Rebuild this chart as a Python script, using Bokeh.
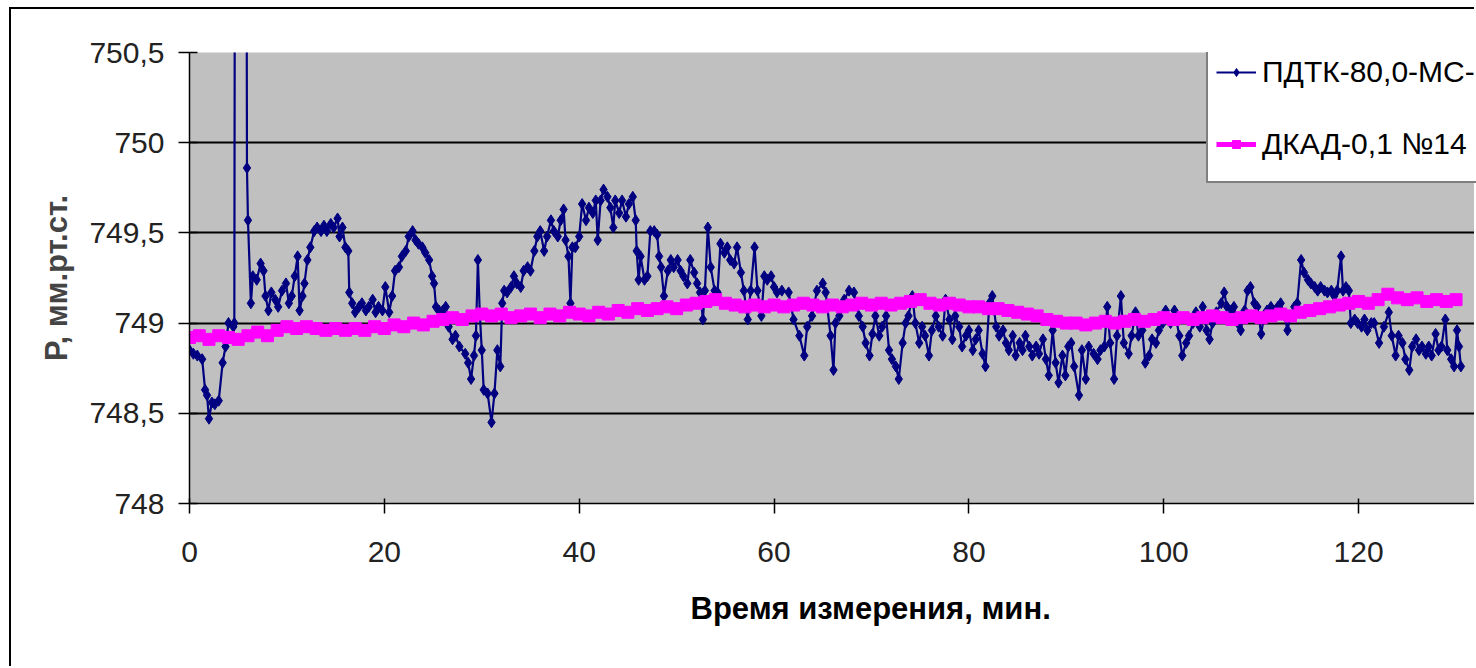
from bokeh.plotting import figure
from bokeh.models import Range1d, FixedTicker, Legend, LegendItem, Title, CustomJSTickFormatter
from bokeh.embed import file_html
from bokeh.resources import INLINE

# ---- data: ПДТК-80,0-МС (time, pressure) ----
pdtk_t = [0.0, 0.4, 0.8, 1.3, 1.6, 1.8, 2.0, 2.3, 2.6, 3.0, 3.4, 3.7, 4.0, 4.5, 4.6, 4.7, 5.8, 5.9, 6.0, 6.3,
          6.5, 6.9, 7.3, 7.6, 7.8, 8.1, 8.4, 8.8, 9.1, 9.5, 9.9, 10.2, 10.5, 10.8, 11.1, 11.3, 11.6, 11.8, 12.1, 12.4,
          12.8, 13.1, 13.5, 13.8, 14.1, 14.5, 14.8, 15.2, 15.4, 15.7, 16.0, 16.3, 16.4, 16.7, 17.0, 17.4, 17.7, 18.1, 18.4, 18.8,
          19.1, 19.4, 19.8, 20.1, 20.5, 20.8, 21.1, 21.5, 21.8, 22.2, 22.5, 22.9, 23.2, 23.5, 23.9, 24.2, 24.6, 24.9, 25.1, 25.3,
          25.6, 26.0, 26.3, 26.6, 27.0, 27.3, 27.7, 28.3, 28.6, 28.9, 29.2, 29.4, 29.6, 29.8, 30.0, 30.2, 30.6, 31.0, 31.3, 31.6,
          31.9, 32.1, 32.3, 32.6, 33.0, 33.3, 33.6, 34.0, 34.3, 34.7, 35.0, 35.4, 35.7, 36.0, 36.4, 36.7, 37.1, 37.4, 37.8, 38.1,
          38.4, 38.6, 38.9, 39.1, 39.3, 39.6, 40.0, 40.3, 40.7, 41.0, 41.4, 41.7, 41.9, 42.2, 42.5, 42.9, 43.2, 43.5, 43.7, 44.1,
          44.4, 44.8, 45.1, 45.5, 45.8, 45.9, 46.1, 46.3, 46.7, 47.0, 47.3, 47.7, 48.0, 48.2, 48.4, 48.7, 49.1, 49.4, 49.7, 50.1,
          50.4, 50.7, 51.1, 51.4, 51.8, 52.1, 52.4, 52.7, 52.9, 53.2, 53.5, 53.9, 54.2, 54.5, 54.9, 55.2, 55.5, 55.9, 56.2, 56.6,
          56.9, 57.3, 57.6, 58.0, 58.3, 58.7, 59.0, 59.3, 59.7, 60.0, 60.3, 60.8, 61.5, 62.0, 62.6, 63.1, 63.4, 63.9, 64.4, 65.0,
          65.3, 65.8, 66.1, 66.3, 66.7, 67.2, 67.7, 68.2, 68.7, 69.1, 69.4, 69.8, 70.1, 70.4, 70.8, 71.1, 71.5, 71.8, 72.1, 72.5,
          72.8, 73.2, 73.5, 73.8, 74.2, 74.5, 74.9, 75.2, 75.5, 75.9, 76.2, 76.6, 76.9, 77.3, 77.6, 78.0, 78.3, 78.6, 79.0, 79.3,
          79.7, 80.0, 80.4, 80.7, 81.0, 81.4, 81.7, 82.1, 82.4, 82.8, 83.1, 83.5, 83.8, 84.1, 84.5, 84.8, 85.2, 85.5, 85.8, 86.2,
          86.5, 86.9, 87.2, 87.6, 87.9, 88.2, 88.6, 88.9, 89.2, 89.6, 89.9, 90.2, 90.5, 90.8, 91.3, 91.6, 92.0, 92.3, 92.8, 93.2,
          93.5, 93.9, 94.2, 94.5, 94.9, 95.2, 95.6, 95.9, 96.4, 96.7, 97.1, 97.4, 97.8, 98.1, 98.5, 98.8, 99.2, 99.5, 99.9, 100.2,
          100.7, 101.1, 101.6, 101.9, 102.3, 102.6, 103.0, 103.3, 103.7, 104.0, 104.4, 104.7, 105.0, 105.4, 105.9, 106.2, 106.5, 106.9, 107.2, 107.6,
          107.9, 108.3, 108.6, 108.9, 109.3, 109.6, 110.0, 110.3, 110.6, 111.0, 111.3, 111.7, 112.0, 112.4, 112.7, 113.0, 113.4, 113.7, 114.1, 114.4,
          114.8, 115.1, 115.5, 115.8, 116.1, 116.5, 116.8, 117.2, 117.5, 117.8, 118.2, 118.4, 118.7, 119.0, 119.2, 119.6, 119.9, 120.3, 120.6, 120.9,
          121.3, 121.6, 122.1, 122.6, 123.1, 123.4, 123.8, 124.1, 124.5, 124.8, 125.2, 125.5, 125.9, 126.2, 126.5, 126.9, 127.2, 127.5, 127.9, 128.2,
          128.5, 128.9, 129.1, 129.5, 129.8, 130.1, 130.3, 130.5]
pdtk_p = [748.85, 748.83, 748.82, 748.80, 748.63, 748.60, 748.47, 748.56, 748.55, 748.57, 748.78, 748.87, 749.00, 748.98, 749.00, 753.0, 753.0, 749.86, 749.57, 749.11,
          749.26, 749.24, 749.33, 749.29, 749.15, 749.07, 749.17, 749.13, 749.09, 749.18, 749.22, 749.11, 749.15, 749.26, 749.37, 749.07, 749.15, 749.22, 749.35, 749.42,
          749.51, 749.53, 749.51, 749.54, 749.51, 749.55, 749.53, 749.58, 749.48, 749.53, 749.42, 749.40, 749.17, 749.11, 749.06, 749.09, 749.11, 749.07, 749.09, 749.13,
          749.06, 749.09, 749.07, 749.20, 749.06, 749.15, 749.29, 749.31, 749.37, 749.40, 749.48, 749.51, 749.46, 749.44, 749.42, 749.39, 749.35, 749.26, 749.22, 749.09,
          749.07, 749.07, 749.09, 748.98, 748.91, 748.93, 748.87, 748.83, 748.78, 748.69, 748.82, 748.93, 749.35, 749.05, 748.85, 748.63, 748.61, 748.45, 748.61, 748.85,
          748.76, 749.11, 749.18, 749.17, 749.20, 749.26, 749.22, 749.20, 749.29, 749.31, 749.29, 749.40, 749.48, 749.51, 749.40, 749.48, 749.57, 749.51, 749.48, 749.57,
          749.63, 749.46, 749.37, 749.11, 749.42, 749.42, 749.48, 749.66, 749.57, 749.64, 749.61, 749.68, 749.46, 749.68, 749.74, 749.70, 749.64, 749.53, 749.68, 749.61,
          749.68, 749.59, 749.66, 749.70, 749.57, 749.40, 749.24, 749.37, 749.24, 749.26, 749.51, 749.51, 749.49, 749.37, 749.31, 749.15, 749.29, 749.35, 749.31, 749.35,
          749.29, 749.26, 749.22, 749.35, 749.28, 749.22, 749.17, 749.02, 749.18, 749.53, 749.31, 749.18, 749.17, 749.44, 749.39, 749.42, 749.35, 749.33, 749.42, 749.28,
          749.18, 749.02, 749.18, 749.42, 749.18, 749.04, 749.26, 749.24, 749.26, 749.20, 749.17, 749.18, 749.17, 749.02, 748.93, 748.82, 748.98, 749.04, 749.18, 749.22,
          749.17, 748.93, 748.74, 749.00, 749.04, 749.13, 749.18, 749.17, 749.04, 748.98, 748.89, 748.82, 748.94, 749.04, 748.93, 748.98, 749.04, 748.85, 748.80, 748.76,
          748.69, 748.89, 749.00, 749.04, 749.15, 749.00, 748.89, 748.98, 748.93, 748.82, 748.96, 749.04, 748.98, 748.93, 749.13, 749.02, 748.91, 749.04, 748.98, 748.87,
          748.93, 748.96, 748.85, 748.91, 748.96, 748.83, 748.76, 749.11, 749.15, 748.98, 748.93, 748.96, 748.89, 748.85, 748.93, 748.82, 748.89, 748.85, 748.93, 748.87,
          748.82, 748.87, 748.83, 748.91, 748.80, 748.71, 748.96, 748.78, 748.67, 748.82, 748.71, 748.87, 748.89, 748.76, 748.60, 748.85, 748.69, 748.87, 748.83, 748.80,
          748.85, 748.87, 749.09, 748.89, 748.69, 748.93, 749.15, 748.89, 748.83, 748.93, 749.06, 748.93, 748.96, 748.78, 748.82, 748.91, 748.89, 748.96, 749.00, 749.07,
          749.00, 749.07, 748.93, 748.82, 748.89, 748.93, 749.00, 749.06, 748.98, 749.09, 748.96, 748.91, 749.00, 749.06, 749.11, 749.17, 749.09, 749.07, 749.09, 749.00,
          748.96, 749.07, 749.18, 749.20, 749.11, 749.09, 748.94, 749.04, 749.07, 749.09, 749.07, 749.09, 749.11, 749.04, 748.96, 749.04, 749.09, 749.11, 749.35, 749.28,
          749.24, 749.22, 749.20, 749.18, 749.20, 749.18, 749.17, 749.18, 749.15, 749.18, 749.37, 749.18, 749.20, 749.18, 749.00, 749.02, 749.00, 748.98, 749.02, 748.96,
          749.00, 749.00, 748.89, 748.98, 749.06, 748.93, 748.82, 748.93, 748.89, 748.80, 748.74, 748.87, 748.91, 748.85, 748.87, 748.83, 748.87, 748.82, 748.94, 748.85,
          748.87, 749.02, 748.85, 748.80, 748.76, 748.96, 748.87, 748.76]

# ---- data: ДКАД-0,1 №14 (one reading per minute) ----
dkad_t = list(range(0, 131))
dkad_p = [748.92, 748.93, 748.91, 748.93, 748.92, 748.91, 748.93, 748.95, 748.93, 748.96,
          748.98, 748.97, 748.98, 748.97, 748.96, 748.97, 748.96, 748.97, 748.96, 748.98,
          748.97, 748.99, 748.98, 749.00, 748.99, 749.01, 749.02, 749.03, 749.02, 749.04,
          749.05, 749.04, 749.05, 749.03, 749.04, 749.05, 749.03, 749.05, 749.04, 749.06,
          749.05, 749.04, 749.06, 749.05, 749.07, 749.06, 749.08, 749.07, 749.08, 749.09,
          749.08, 749.10, 749.11, 749.12, 749.13, 749.11, 749.10, 749.09, 749.10, 749.09,
          749.10, 749.09, 749.10, 749.11, 749.10, 749.09, 749.10, 749.09, 749.10, 749.11,
          749.10, 749.11, 749.10, 749.11, 749.12, 749.13, 749.11, 749.10, 749.11, 749.10,
          749.09, 749.09, 749.08, 749.08, 749.07, 749.06, 749.05, 749.04, 749.02, 749.01,
          749.00, 749.00, 748.99, 749.00, 749.01, 749.00, 749.01, 749.02, 749.01, 749.02,
          749.03, 749.02, 749.03, 749.02, 749.03, 749.04, 749.03, 749.02, 749.03, 749.04,
          749.03, 749.04, 749.05, 749.04, 749.06, 749.07, 749.08, 749.09, 749.10, 749.11,
          749.12, 749.11, 749.13, 749.16, 749.14, 749.13, 749.14, 749.12, 749.13, 749.12,
          749.13]

x_ticks = [0, 20, 40, 60, 80, 100, 120]
y_ticks = [748.0, 748.5, 749.0, 749.5, 750.0, 750.5]
legend_labels = ["ПДТК-80,0-МС-", "ДКАД-0,1 №14"]
x_title = "Время измерения, мин."
y_title = "Р, мм.рт.ст."

FONT = "Liberation Sans"

p = figure(width=1465, height=659, output_backend="svg", toolbar_location=None,
           x_range=Range1d(0, 132.1), y_range=Range1d(748, 750.5),
           min_border_left=178, min_border_right=0, min_border_top=43, min_border_bottom=165,
           styles={"margin-left": "9px", "margin-top": "7px",
                   "border-left": "2px solid black", "border-top": "2px solid black"})
p.background_fill_color = "#C0C0C0"
p.border_fill_color = "white"
p.outline_line_color = None

p.xgrid.visible = False
p.ygrid.ticker = FixedTicker(ticks=y_ticks[1:])
p.ygrid.grid_line_color = "black"
p.ygrid.grid_line_width = 2

for ax in (p.xaxis[0], p.yaxis[0]):
    ax.axis_line_color = "black"
    ax.axis_line_width = 1.5
    ax.major_tick_line_color = "black"
    ax.major_tick_line_width = 1.5
    ax.minor_tick_line_color = None
    ax.major_label_text_font = FONT
    ax.major_label_text_font_size = "30px"
    ax.major_label_text_color = "#222222"

p.xaxis.ticker = FixedTicker(ticks=x_ticks)
p.xaxis.major_tick_out = 10
p.xaxis.major_tick_in = 5
p.xaxis.major_label_standoff = 28

p.yaxis.ticker = FixedTicker(ticks=y_ticks)
p.yaxis.formatter = CustomJSTickFormatter(code="return tick.toString().replace('.', ',');")
p.yaxis.major_tick_out = 11
p.yaxis.major_tick_in = 8
p.yaxis.major_label_standoff = 14
p.yaxis.axis_label = y_title
p.yaxis.axis_label_text_font = FONT
p.yaxis.axis_label_text_font_style = "bold"
p.yaxis.axis_label_text_font_size = "31px"
p.yaxis.axis_label_standoff = 12

l1 = p.line(pdtk_t, pdtk_p, line_color="#000080", line_width=2.2)
s1 = p.scatter(pdtk_t, pdtk_p, marker="diamond", size=11, fill_color="#000080", line_color="#000080")
l2 = p.line(dkad_t, dkad_p, line_color="#FF00FF", line_width=5)
s2 = p.scatter(dkad_t, dkad_p, marker="square", size=12, fill_color="#FF00FF", line_color="#FF00FF")

# x-axis title: the original plot area is wider than the crop, so its title sits right of our frame centre
p.add_layout(Title(text=x_title, align="left", offset=501, standoff=48, text_font=FONT,
                   text_font_style="bold", text_font_size="31px", text_color="black"), "below")

legend = Legend(items=[LegendItem(label=legend_labels[0], renderers=[l1, s1]),
                       LegendItem(label=legend_labels[1], renderers=[l2, s2])],
                location=(1017, 320), orientation="vertical",
                glyph_width=40, glyph_height=20, label_height=58, label_standoff=6, spacing=14, padding=8,
                label_text_font=FONT, label_text_font_size="30px", label_text_color="black",
                border_line_color="black", border_line_width=2,
                background_fill_color="white", background_fill_alpha=1.0, margin=0)
p.add_layout(legend)

open("out.html", "w").write(file_html(p, INLINE))
